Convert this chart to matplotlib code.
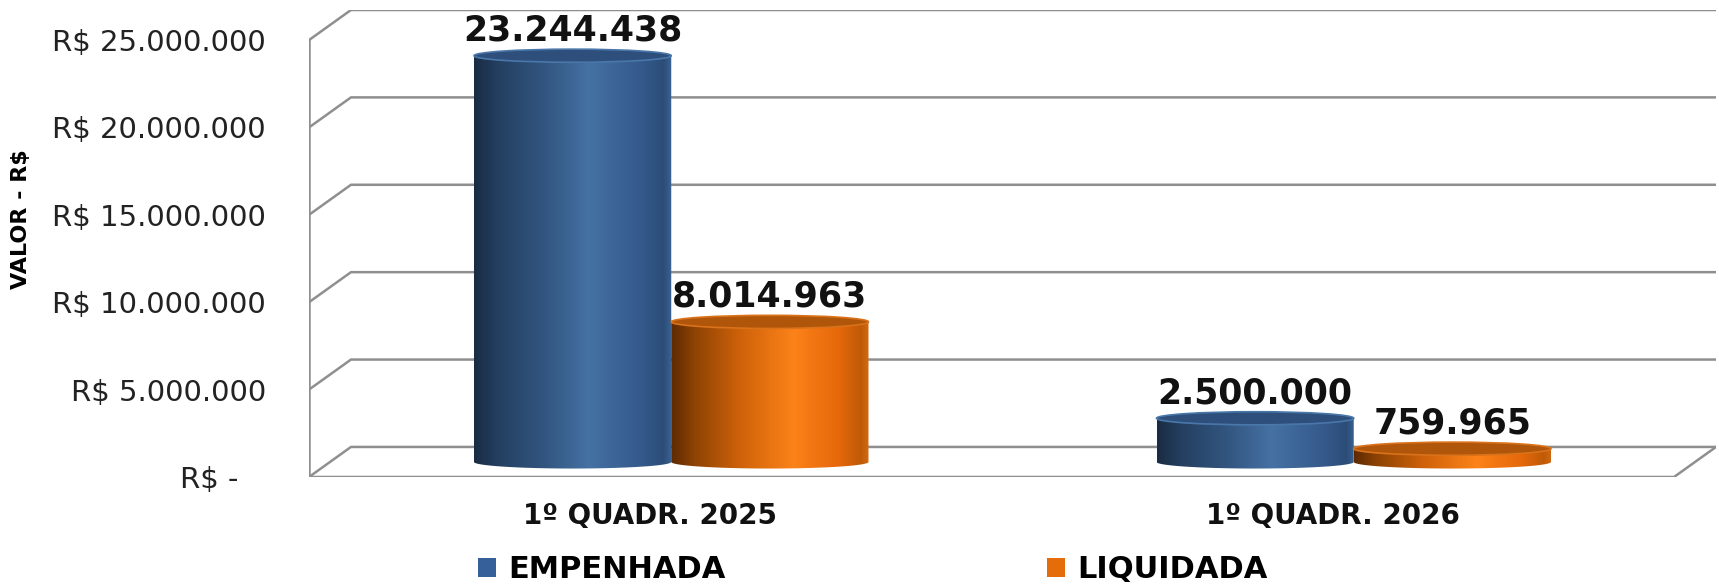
import numpy as np
import matplotlib
matplotlib.use("Agg")
import matplotlib.pyplot as plt
from matplotlib.colors import LinearSegmentedColormap
from matplotlib.patches import Ellipse, Patch, PathPatch
from matplotlib.path import Path

# data
categories = ["1º QUADR. 2025", "1º QUADR. 2026"]
series = ["EMPENHADA", "LIQUIDADA"]
empenhada = [23244438, 2500000]
liquidada = [8014963, 759965]
value_labels_emp = ["23.244.438", "2.500.000"]
value_labels_liq = ["8.014.963", "759.965"]
yticks = [0, 5000000, 10000000, 15000000, 20000000, 25000000]
ytick_labels = ["R$ -   ", "R$ 5.000.000", "R$ 10.000.000", "R$ 15.000.000",
                "R$ 20.000.000", "R$ 25.000.000"]

W, H = 1719, 584
fig = plt.figure(figsize=(W / 100, H / 100), dpi=100)
# front-left of floor at (309, 477) px, back-right top at (1716, 10) px
ax = fig.add_axes([309 / W, (H - 477) / H, (1716 - 309) / W, (477 - 10) / H])

dx = 0.0615      # depth offset in x units
dy = 1.72e6      # depth offset in value units
bw = 0.289       # cylinder width
eh = 0.75e6      # ellipse height (value units)
grid_c = "#8f8f8f"

# walls / gridlines
for v in yticks:
    ax.plot([0, dx, len(categories) + dx], [v, v + dy, v + dy], color=grid_c, lw=1.8, zorder=1,
            solid_joinstyle="miter")
ax.plot([0, 0], [0, yticks[-1]], color=grid_c, lw=1.8, zorder=1)
ax.plot([0, len(categories), len(categories) + dx], [0, 0, dy], color=grid_c, lw=1.8, zorder=1,
        solid_joinstyle="miter")

blue_cmap = LinearSegmentedColormap.from_list("b", [
    (0.0, "#1a2c44"), (0.12, "#243f60"), (0.35, "#32557f"), (0.58, "#4571a3"),
    (0.85, "#34598a"), (0.96, "#2c4d78"), (1.0, "#3a6394")])
orange_cmap = LinearSegmentedColormap.from_list("o", [
    (0.0, "#5e2a02"), (0.12, "#8f4304"), (0.35, "#cf620a"), (0.62, "#fc8219"),
    (0.85, "#e5680b"), (0.96, "#c05a07"), (1.0, "#d26a12")])
grad = np.linspace(0, 1, 256).reshape(1, -1)


def cylinder(xc, base, value, cmap, top_face, top_edge):
    top = base + value
    x0, x1 = xc - bw / 2, xc + bw / 2
    t = np.linspace(0, np.pi, 60)
    arc_x = xc + (bw / 2) * np.cos(t)
    arc_y = base - (eh / 2) * np.sin(t)
    verts = [(x1, top)] + list(zip(arc_x, arc_y)) + [(x0, top), (x1, top)]
    codes = [Path.MOVETO] + [Path.LINETO] * (len(verts) - 2) + [Path.CLOSEPOLY]
    clip = PathPatch(Path(verts, codes), facecolor="none", edgecolor="none")
    ax.add_patch(clip)
    im = ax.imshow(grad, extent=[x0, x1, base - eh / 2, top], aspect="auto",
                   cmap=cmap, zorder=3, interpolation="bilinear")
    im.set_clip_path(clip)
    ax.add_patch(Ellipse((xc, top), bw, eh, facecolor=top_face, edgecolor=top_edge,
                         lw=1.2, zorder=4))
    return top


for i in range(len(categories)):
    c = i + 0.5 + dx / 2
    base = dy / 2
    t1 = cylinder(c - bw / 2, base, empenhada[i], blue_cmap, "#2e4f7b", "#4a77aa")
    t2 = cylinder(c + bw / 2, base, liquidada[i], orange_cmap, "#b0560a", "#d9721a")
    ax.annotate(value_labels_emp[i], (c - bw / 2, t1), xytext=(0, 18), textcoords="offset points",
                ha="center", va="center", fontsize=25, fontweight="bold", color="#111111")
    ax.annotate(value_labels_liq[i], (c + bw / 2, t2), xytext=(0, 18), textcoords="offset points",
                ha="center", va="center", fontsize=25, fontweight="bold", color="#111111")

ax.set_xlim(0, len(categories) + dx)
ax.set_ylim(0, yticks[-1] + dy)
ax.set_yticks(yticks, ytick_labels, fontsize=21, color="#222222")
ax.set_xticks([0.5, 1.5], categories, fontsize=20, fontweight="bold", color="#111111")
ax.tick_params(axis="y", length=0, pad=31)
ax.tick_params(axis="x", length=0, pad=18)
for s in ax.spines.values():
    s.set_visible(False)

fig.text(21 / W, 1 - 219 / H, "VALOR - R$", rotation=90, ha="center", va="center",
         fontsize=16, fontweight="bold")

handles = [Patch(facecolor="#36609a"), Patch(facecolor="#e46c0a")]
fig.legend(handles, series, loc="center", bbox_to_anchor=(873 / W, 14 / H), ncol=2,
           frameon=False, handlelength=0.6, handleheight=0.6, handletextpad=0.4,
           columnspacing=10.5, prop={"size": 22, "weight": "bold"})

fig.savefig("out.png", dpi=100)
